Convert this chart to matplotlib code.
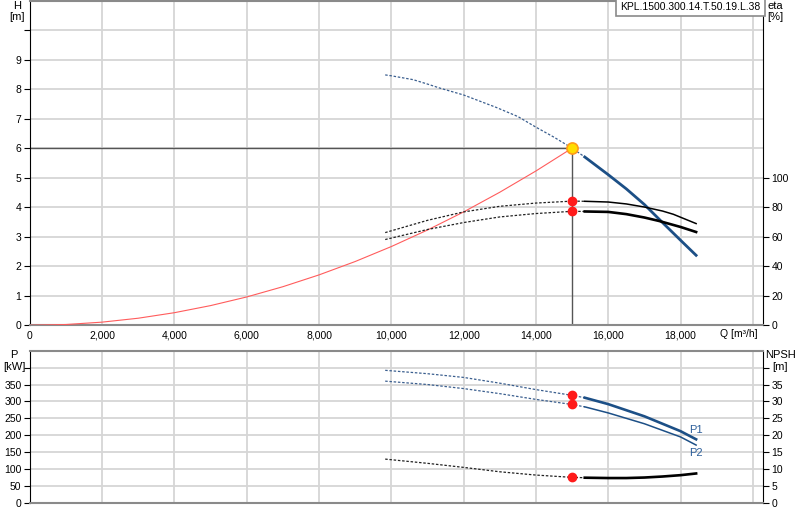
import numpy as np
import matplotlib
matplotlib.use("Agg")
import matplotlib.pyplot as plt

plt.rcParams['font.family'] = ['Liberation Sans', 'DejaVu Sans']

# duty point
q_duty = 15000
h_duty = 6.0
eta1_duty = 84.1
eta2_duty = 77.2
p1_duty = 318
p2_duty = 291
npsh_duty = 7.55

# head curve (dotted = outside range, solid = operating range)
q_h_dot = [9830, 10000, 10600, 11000, 11350, 12000, 12900, 13500, 14000, 14500, 15000, 15350]
h_dot = [8.48, 8.45, 8.32, 8.17, 8.03, 7.80, 7.38, 7.07, 6.71, 6.37, 6.00, 5.70]
q_h_sol = [15350, 16000, 16500, 17000, 17500, 18000, 18430]
h_sol = [5.70, 5.10, 4.62, 4.09, 3.48, 2.88, 2.37]

# system curve
q_sys = [0, 1000, 2000, 3000, 4000, 5000, 6000, 7000, 8000, 9000, 10000,
         11000, 12000, 13000, 14000, 15000]
h_sys = [0, 0.027, 0.107, 0.24, 0.427, 0.667, 0.96, 1.307, 1.707, 2.16, 2.667,
         3.227, 3.84, 4.507, 5.227, 6.0]

# efficiencies
q_eta_dot = [9830, 11000, 12000, 13000, 14000, 15000, 15350]
eta1_dot = [62.8, 71.1, 76.8, 80.6, 82.8, 84.1, 84.0]
eta2_dot = [58.1, 64.9, 69.6, 73.4, 75.7, 77.2, 77.1]
q_eta1_sol = [15350, 16000, 16500, 17000, 17500, 17800, 18430]
eta1_sol = [84.0, 83.5, 82.2, 80.1, 77.4, 75.2, 68.9]
q_eta2_sol = [15350, 16000, 16500, 17000, 17400, 18000, 18430]
eta2_sol = [77.1, 76.8, 75.3, 73.0, 70.7, 66.6, 63.2]

# power
q_p_dot = [9830, 11000, 12000, 13000, 14000, 15000, 15350]
p1_dot = [392, 382, 371, 354, 335, 318, 311]
p2_dot = [360, 350, 338, 323, 306, 291, 284]
q_p_sol = [15350, 16000, 17000, 18000, 18430]
p1_sol = [311, 292, 256, 212, 188]
p2_sol = [284, 266, 234, 195, 171]

# NPSH
q_n_dot = [9830, 11000, 12000, 13000, 14000, 15000, 15350]
npsh_dot = [12.95, 11.7, 10.5, 9.2, 8.23, 7.55, 7.45]
q_n_sol = [15350, 16000, 16500, 17000, 17500, 18000, 18430]
npsh_sol = [7.45, 7.35, 7.35, 7.5, 7.8, 8.2, 8.7]

x_ticks = list(range(0, 20001, 2000))
label = "KPL.1500.300.14.T.50.19.L.38"

blue = '#1c4f86'
grid_c = '#d6d6d6'
dots = (0, (2, 1.4))

W, H = 800, 520
fig = plt.figure(figsize=(8, 5.2), dpi=100)
ax = fig.add_axes([29.8 / W, 1 - 325.3 / H, (763 - 29.8) / W, 324.8 / H])
axb = fig.add_axes([29.8 / W, 1 - 502.9 / H, (763 - 29.8) / W, 152.2 / H])


def style(a):
    a.set_xlim(0, 20280)
    a.set_xticks(x_ticks)
    a.grid(True, color=grid_c, lw=1.3)
    a.set_axisbelow(True)
    a.spines['left'].set_color('black')
    a.spines['right'].set_color('black')
    a.spines['top'].set_color('#8a8a8a')
    a.spines['bottom'].set_color('#8a8a8a')
    a.spines['top'].set_linewidth(1.5)
    a.spines['bottom'].set_linewidth(1.5)
    a.tick_params(axis='x', length=0, labelsize=7.5, pad=4)
    a.tick_params(axis='y', length=4, labelsize=7.5, pad=2)


style(ax)
style(axb)

# ---- top: head / efficiency ----
ax.set_ylim(0, 11)
ax.set_yticks(range(0, 11))
ax.set_yticklabels([str(i) for i in range(10)] + [''])
xl = [f"{v:,}" for v in x_ticks]
xl[-1] = ''
ax.set_xticklabels(xl)

ax.plot(q_sys, h_sys, color='#ff5c5c', lw=0.8, zorder=3)
ax.plot([0, q_duty], [h_duty, h_duty], color='#555555', lw=1.0, zorder=2)
ax.plot([q_duty, q_duty], [h_duty, 0], color='#555555', lw=1.0, zorder=2)
ax.plot(q_h_dot, h_dot, color='#3b5f8f', lw=0.9, ls=dots, zorder=3)
ax.plot(q_h_sol, h_sol, color=blue, lw=2.0, zorder=4)

ax2 = ax.twinx()
ax2.set_ylim(0, 220)
ax2.set_yticks(range(0, 101, 20))
ax2.tick_params(axis='y', length=4, labelsize=7.5, pad=2)
for s in ax2.spines.values():
    s.set_visible(False)
ax2.plot(q_eta_dot, eta1_dot, color='#222222', lw=0.9, ls=dots)
ax2.plot(q_eta_dot, eta2_dot, color='#222222', lw=0.9, ls=dots)
ax2.plot(q_eta1_sol, eta1_sol, color='black', lw=1.1)
ax2.plot(q_eta2_sol, eta2_sol, color='black', lw=1.9)
ax2.plot([q_duty, q_duty], [eta1_duty, eta2_duty], 'o', color='#ff1a1a',
         ms=6, mec='#ff1a1a', zorder=5)
ax2.plot([q_duty], [h_duty * 20], 'o', ms=8, mfc='#ffdd00', mec='#ff9a1a',
         mew=1.2, zorder=6)

ax2.text(0.9965, 0.996, label, transform=ax2.transAxes, ha='right', va='top',
         fontsize=7.5, bbox=dict(boxstyle='square,pad=0.4', fc='white',
                                 ec='#8a8a8a', lw=1.2))

# ---- bottom: power / NPSH ----
axb.set_ylim(0, 450)
axb.set_yticks(range(0, 401, 50))
axb.set_yticklabels([str(v) for v in range(0, 351, 50)] + [''])
axb.set_xticklabels([])
axb.plot(q_p_dot, p1_dot, color='#3b5f8f', lw=0.9, ls=dots)
axb.plot(q_p_dot, p2_dot, color='#3b5f8f', lw=0.9, ls=dots)
axb.plot(q_p_sol, p1_sol, color=blue, lw=1.9)
axb.plot(q_p_sol, p2_sol, color=blue, lw=1.1)
axb.plot([q_duty, q_duty], [p1_duty, p2_duty], 'o', color='#ff1a1a', ms=6, zorder=5)
axb.text(q_p_sol[-1], p1_sol[-1] + 12, "P1", color='#2d5f9a', fontsize=8,
         ha='center', va='bottom')
axb.text(q_p_sol[-1], p2_sol[-1] - 8, "P2", color='#2d5f9a', fontsize=8,
         ha='center', va='top')

axn = axb.twinx()
axn.set_ylim(0, 45)
axn.set_yticks(range(0, 41, 5))
axn.set_yticklabels([str(v) for v in range(0, 36, 5)] + [''])
axn.tick_params(axis='y', length=4, labelsize=7.5, pad=2)
for s in axn.spines.values():
    s.set_visible(False)
axn.plot(q_n_dot, npsh_dot, color='#222222', lw=0.9, ls=dots)
axn.plot(q_n_sol, npsh_sol, color='black', lw=1.9)
axn.plot([q_duty], [npsh_duty], 'o', color='#ff1a1a', ms=6, zorder=5)

# axis captions
fs = 8
fig.text(17 / W, 1 - 11.5 / H, "H\n[m]", ha='center', va='center', fontsize=fs,
         linespacing=1.15)
fig.text(775 / W, 1 - 11.5 / H, "eta\n[%]", ha='center', va='center', fontsize=fs,
         linespacing=1.15)
fig.text(739 / W, 1 - 334 / H, "Q [m³/h]", ha='center', va='center', fontsize=7.5)
fig.text(14 / W, 1 - 361 / H, "P\n[kW]", ha='center', va='center', fontsize=fs,
         linespacing=1.15)
fig.text(780 / W, 1 - 361 / H, "NPSH\n[m]", ha='center', va='center', fontsize=fs,
         linespacing=1.15)

fig.savefig("out.png", dpi=100)
